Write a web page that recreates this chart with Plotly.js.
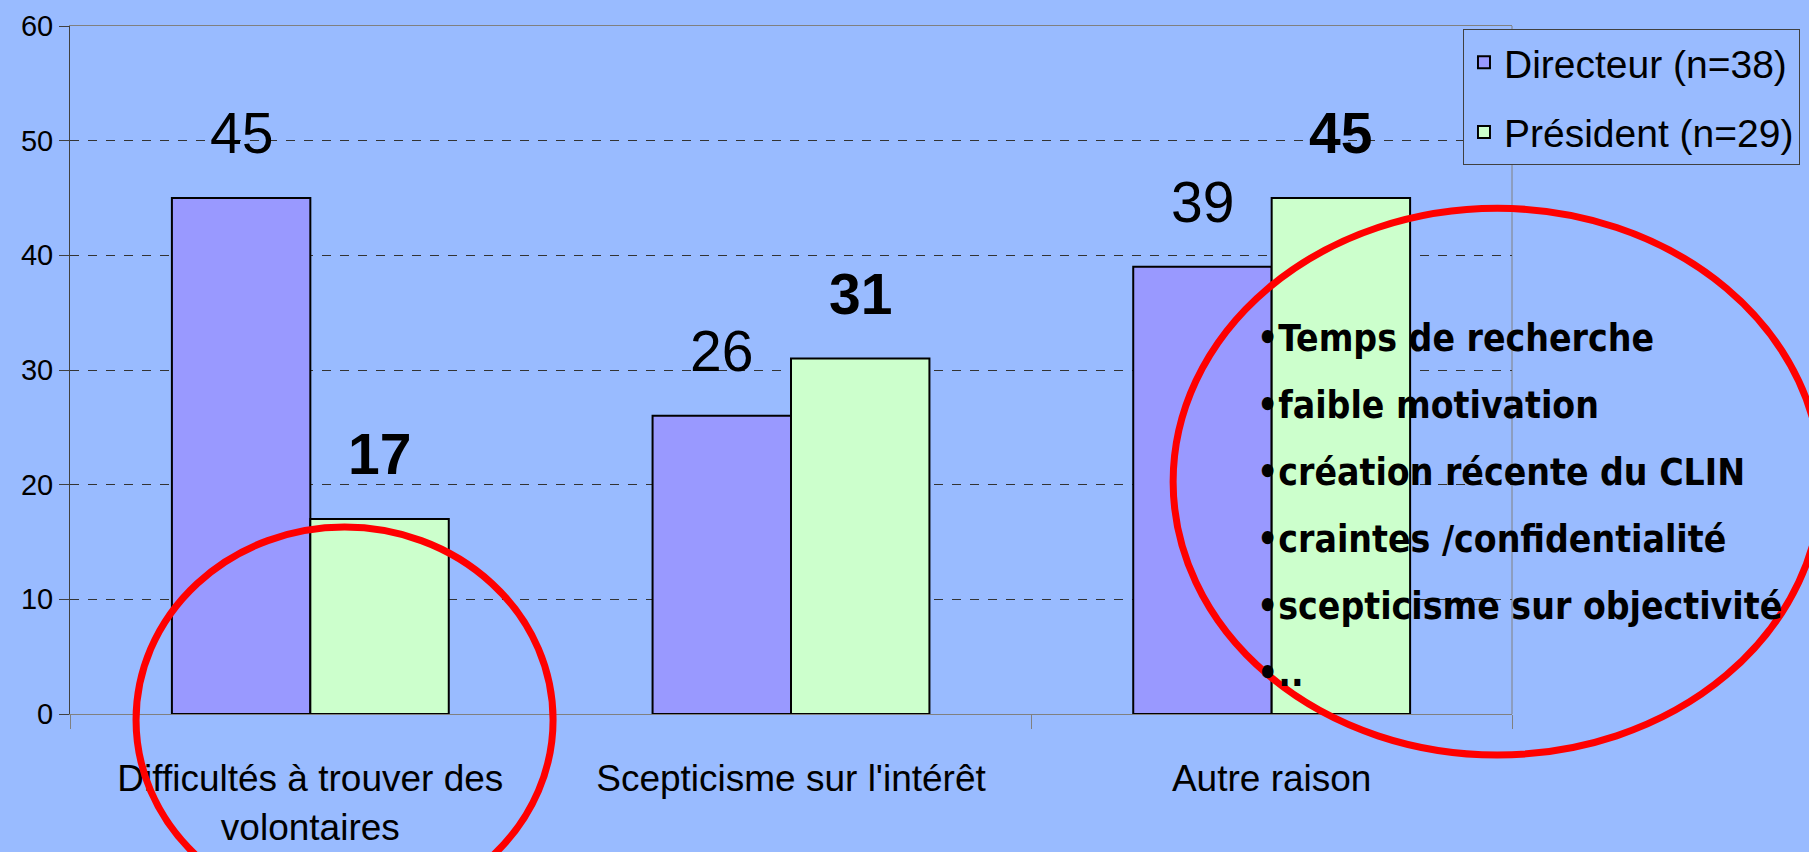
<!DOCTYPE html>
<html>
<head>
<meta charset="utf-8">
<script src="https://cdn.plot.ly/plotly-3.0.1.min.js"></script>
<style>
  html, body { margin: 0; padding: 0; background: #99BBFF; }
  #chart { width: 1809px; height: 852px; }
</style>
</head>
<body>
<div id="chart"></div>
<script>
// Chart data
const categories = ['Difficultés à trouver des<br>volontaires', "Scepticisme sur l'intérêt", 'Autre raison'];
const directeurValues = [45, 26, 39];
const presidentValues = [17, 31, 45];
const seriesNames = ['Directeur (n=38)', 'Président (n=29)'];
const reasonLines = [
  '•Temps de recherche',
  '•faible motivation',
  '•création récente du CLIN',
  '•craintes /confidentialité',
  '•scepticisme sur objectivité',
  '•..'
];

const SANS = '"Liberation Sans", Arial, sans-serif';
const BG = '#99BBFF';
const BARGAP = 0.424;

const traces = [
  {
    type: 'bar',
    name: seriesNames[0],
    x: categories,
    y: directeurValues,
    legendgroup: 'a',
    marker: { color: '#9999FF', line: { color: '#000000', width: 2 } },
    hoverinfo: 'none'
  },
  {
    type: 'bar',
    name: seriesNames[1],
    x: categories,
    y: presidentValues,
    legendgroup: 'b',
    marker: { color: '#CCFFCC', line: { color: '#000000', width: 2 } },
    hoverinfo: 'none'
  }
];

// Value labels above each bar (bar centers sit at +/- a quarter of the group width)
const offset = (1 - BARGAP) / 4;
const annotations = [];
directeurValues.forEach((v, i) => {
  annotations.push({
    x: i - offset, y: v, xref: 'x', yref: 'y',
    text: String(v), showarrow: false,
    xanchor: 'center', yanchor: 'bottom', yshift: 31,
    font: { family: SANS, size: 57, color: '#000' }
  });
});
presidentValues.forEach((v, i) => {
  annotations.push({
    x: i + offset, y: v, xref: 'x', yref: 'y',
    text: '<b>' + v + '</b>', showarrow: false,
    xanchor: 'center', yanchor: 'bottom', yshift: 31,
    font: { family: SANS, size: 57, color: '#000' }
  });
});

// Bullet list in the right-hand circle
const plotTop = 26, plotBottom = 714, plotH = plotBottom - plotTop;
reasonLines.forEach((line, k) => {
  const py = 338 + k * 67;
  annotations.push({
    x: 0.8215, y: (plotBottom - py) / plotH, xref: 'paper', yref: 'paper',
    text: '<b>' + line + '</b>', showarrow: false,
    xanchor: 'left', yanchor: 'middle', align: 'left',
    font: { family: '"DejaVu Sans Condensed", "DejaVu Sans", Verdana, sans-serif', size: 37, color: '#000' }
  });
});

const layout = {
  width: 1809,
  height: 852,
  margin: { l: 70, r: 297, t: 26, b: 138, autoexpand: false },
  paper_bgcolor: BG,
  plot_bgcolor: BG,
  barmode: 'group',
  bargap: BARGAP,
  bargroupgap: 0,
  showlegend: true,
  legend: {
    x: 0.966, y: 0.995, xanchor: 'left', yanchor: 'top',
    bgcolor: BG, bordercolor: '#404040', borderwidth: 1,
    font: { family: SANS, size: 39, color: '#000' },
    tracegroupgap: 16,
    traceorder: 'grouped'
  },
  xaxis: {
    type: 'category',
    showline: true, linecolor: '#808080', linewidth: 1, mirror: true,
    ticks: 'outside', tickson: 'boundaries', ticklen: 14, tickcolor: '#808080',
    tickangle: 0, ticklabelstandoff: 32,
    showgrid: false,
    tickfont: { family: SANS, size: 37, color: '#000' },
    fixedrange: true
  },
  yaxis: {
    range: [0, 60], dtick: 10,
    showline: true, linecolor: '#404040', linewidth: 1,
    ticks: 'outside', ticklen: 10, tickcolor: '#404040',
    showgrid: true, gridcolor: '#333333', gridwidth: 1, griddash: 'dash',
    zeroline: false,
    tickfont: { family: SANS, size: 29, color: '#000' },
    fixedrange: true
  },
  annotations: annotations,
  shapes: [
    // right edge of the plot frame
    { type: 'line', xref: 'paper', yref: 'paper', x0: 1, x1: 1, y0: 0, y1: 1,
      line: { color: '#808080', width: 1 }, layer: 'below' },
    // red hand-drawn circles
    { type: 'circle', xref: 'paper', yref: 'paper',
      x0: 0.0458, x1: 0.335, y0: -0.289, y1: 0.2717,
      line: { color: '#FF0000', width: 7 }, layer: 'above' },
    { type: 'circle', xref: 'paper', yref: 'paper',
      x0: 0.765, x1: 1.2146, y0: -0.0596, y1: 0.735,
      line: { color: '#FF0000', width: 7 }, layer: 'above' }
  ]
};

Plotly.newPlot('chart', traces, layout, { displayModeBar: false, staticPlot: true });
</script>
</body>
</html>
